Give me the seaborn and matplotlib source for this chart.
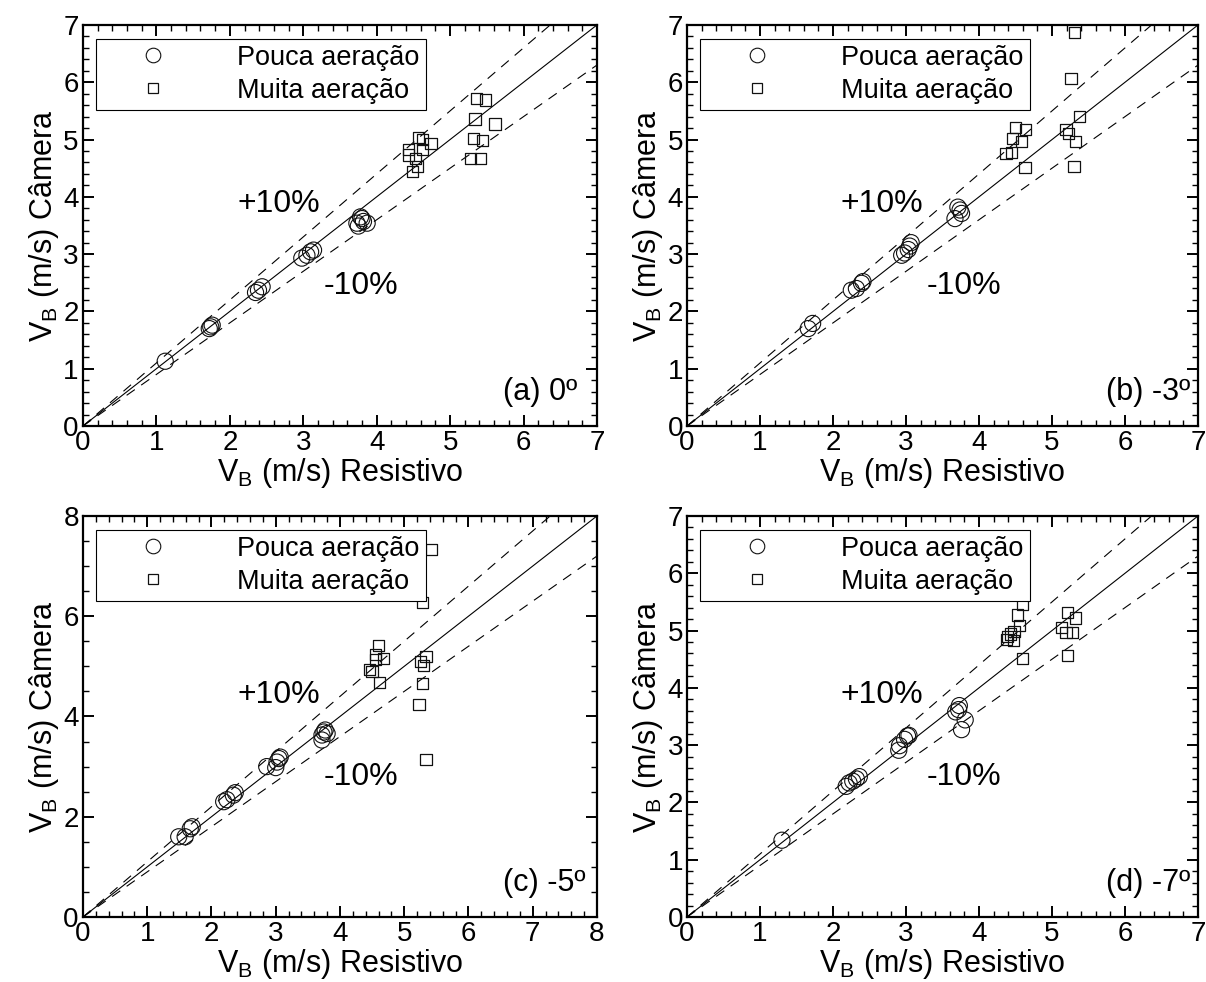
import numpy as np
import pandas as pd
import matplotlib
matplotlib.use("Agg")
import matplotlib.pyplot as plt
from matplotlib.lines import Line2D
from matplotlib.ticker import MultipleLocator
import seaborn as sns

# ---------------- data ----------------
# Panel (a) 0º
a_pouca_x = [1.12, 1.72, 1.76, 1.74, 2.35, 2.44, 2.39, 2.98, 3.05, 3.14, 3.10, 3.78, 3.73, 3.82, 3.75, 3.80, 3.87]
a_pouca_y = [1.13, 1.70, 1.76, 1.73, 2.33, 2.43, 2.37, 2.93, 2.98, 3.07, 3.04, 3.65, 3.54, 3.57, 3.49, 3.62, 3.54]
a_muita_x = [5.36, 5.48, 5.34, 5.61, 5.32, 5.44, 5.28, 5.41, 4.57, 4.62, 4.74, 4.43, 4.62, 4.43, 4.53, 4.56, 4.49]
a_muita_y = [5.71, 5.69, 5.36, 5.27, 5.02, 4.98, 4.67, 4.67, 5.04, 5.00, 4.93, 4.82, 4.83, 4.73, 4.67, 4.53, 4.44]

# Panel (b) -3º
b_pouca_x = [1.66, 1.72, 2.25, 2.32, 2.39, 2.41, 2.94, 2.98, 3.03, 3.05, 3.07, 3.67, 3.74, 3.76, 3.71]
b_pouca_y = [1.70, 1.79, 2.37, 2.40, 2.49, 2.52, 2.98, 3.02, 3.08, 3.14, 3.20, 3.62, 3.77, 3.71, 3.82]
b_muita_x = [5.31, 5.26, 5.38, 5.19, 5.22, 5.32, 5.30, 4.50, 4.64, 4.46, 4.58, 4.44, 4.37, 4.63]
b_muita_y = [6.87, 6.06, 5.40, 5.17, 5.11, 4.96, 4.53, 5.21, 5.17, 5.02, 4.97, 4.78, 4.75, 4.51]

# Panel (c) -5º
c_pouca_x = [1.49, 1.59, 1.67, 1.70, 2.19, 2.24, 2.34, 2.37, 2.86, 3.00, 3.02, 3.05, 3.07, 3.72, 3.75, 3.77, 3.72, 3.80]
c_pouca_y = [1.60, 1.60, 1.76, 1.80, 2.30, 2.34, 2.43, 2.48, 3.00, 2.98, 3.09, 3.16, 3.19, 3.63, 3.69, 3.73, 3.53, 3.66]
c_muita_x = [5.42, 5.28, 4.60, 4.55, 4.68, 4.55, 5.34, 5.25, 5.30, 4.46, 4.50, 4.62, 5.29, 5.23, 5.34]
c_muita_y = [7.33, 6.27, 5.42, 5.24, 5.16, 5.14, 5.20, 5.09, 5.01, 4.93, 4.89, 4.68, 4.66, 4.24, 3.14]

# Panel (d) -7º
d_pouca_x = [1.30, 2.18, 2.22, 2.27, 2.32, 2.36, 2.90, 2.91, 2.98, 3.02, 3.04, 3.68, 3.73, 3.72, 3.81, 3.76]
d_pouca_y = [1.34, 2.28, 2.34, 2.37, 2.41, 2.45, 2.91, 2.99, 3.10, 3.16, 3.17, 3.58, 3.69, 3.62, 3.44, 3.27]
d_muita_x = [4.59, 4.53, 4.55, 4.48, 4.43, 4.39, 4.47, 4.38, 4.59, 5.21, 5.32, 5.13, 5.19, 5.28, 5.21]
d_muita_y = [5.45, 5.27, 5.09, 4.99, 4.94, 4.90, 4.82, 4.85, 4.51, 5.31, 5.22, 5.05, 4.96, 4.97, 4.57]

panel_titles = ["(a) 0º", "(b) -3º", "(c) -5º", "(d) -7º"]
axis_max = [7, 7, 8, 7]
y_major = [1, 1, 2, 1]
y_minor = [0.2, 0.2, 0.5, 0.2]
series_labels = ["Pouca aeração", "Muita aeração"]
xlabel = "V$_B$ (m/s) Resistivo"
ylabel = "V$_B$ (m/s) Câmera"

# ---------------- style ----------------
sns.set_theme(style="ticks")
plt.rcParams["font.family"] = ["Liberation Sans", "DejaVu Sans"]
plt.rcParams["mathtext.default"] = "regular"
plt.rcParams["axes.linewidth"] = 1.6
plt.rcParams["text.color"] = "black"
plt.rcParams["axes.labelcolor"] = "black"
plt.rcParams["xtick.color"] = "black"
plt.rcParams["ytick.color"] = "black"
plt.rcParams["axes.edgecolor"] = "black"

fig = plt.figure(figsize=(12.06, 9.82), dpi=100)
positions = [
    [0.0688, 0.5662, 0.4262, 0.4084],
    [0.5697, 0.5662, 0.4237, 0.4084],
    [0.0688, 0.0662, 0.4262, 0.4084],
    [0.5697, 0.0662, 0.4237, 0.4084],
]
title_x = [0.961, 0.984, 0.977, 0.984]

panels = [
    (a_pouca_x, a_pouca_y, a_muita_x, a_muita_y),
    (b_pouca_x, b_pouca_y, b_muita_x, b_muita_y),
    (c_pouca_x, c_pouca_y, c_muita_x, c_muita_y),
    (d_pouca_x, d_pouca_y, d_muita_x, d_muita_y),
]

FS = 20
edge = "#111111"

for i, (px, py, mx, my) in enumerate(panels):
    ax = fig.add_axes(positions[i])
    m = axis_max[i]
    # reference lines: 1:1 and +/-10%
    ref = np.array([0, m])
    ax.plot(ref, ref, color="black", lw=0.8, zorder=1)
    ax.plot(ref, 1.1 * ref, color="black", lw=0.8, ls=(0, (9, 7)), zorder=1)
    ax.plot(ref, 0.9 * ref, color="black", lw=0.8, ls=(0, (9, 7)), zorder=1)

    df_p = pd.DataFrame({"x": px, "y": py})
    df_m = pd.DataFrame({"x": mx, "y": my})
    sns.scatterplot(data=df_p, x="x", y="y", ax=ax, marker="o", s=135,
                    facecolors="none", edgecolor=edge, linewidth=0.8, zorder=3)
    sns.scatterplot(data=df_m, x="x", y="y", ax=ax, marker="s", s=65,
                    facecolors="none", edgecolor=edge, linewidth=0.9, zorder=3)

    ax.set_xlim(0, m)
    ax.set_ylim(0, m)
    ax.xaxis.set_major_locator(MultipleLocator(1))
    ax.xaxis.set_minor_locator(MultipleLocator(0.2))
    ax.yaxis.set_major_locator(MultipleLocator(y_major[i]))
    ax.yaxis.set_minor_locator(MultipleLocator(y_minor[i]))
    ax.tick_params(which="both", direction="in", top=True, right=True,
                   color="black", labelcolor="black", labelsize=FS, pad=3)
    ax.tick_params(which="major", length=8, width=1.4)
    ax.tick_params(which="minor", length=4.5, width=1.0)

    ax.set_xlabel(xlabel, fontsize=22, labelpad=0)
    ax.set_ylabel(ylabel, fontsize=22, labelpad=2)

    ax.text(0.30, 0.553, "+10%", transform=ax.transAxes, fontsize=23,
            ha="left", va="center")
    ax.text(0.468, 0.348, "-10%", transform=ax.transAxes, fontsize=23,
            ha="left", va="center")
    ax.text(title_x[i], 0.085, panel_titles[i], transform=ax.transAxes,
            fontsize=22, ha="right", va="center")

    handles = [
        Line2D([], [], ls="none", marker="o", markersize=10.5,
               markerfacecolor="none", markeredgecolor=edge, markeredgewidth=0.8),
        Line2D([], [], ls="none", marker="s", markersize=7.5,
               markerfacecolor="none", markeredgecolor=edge, markeredgewidth=0.9),
    ]
    leg = ax.legend(handles, series_labels, loc="upper left",
                    bbox_to_anchor=(0.025, 0.965), borderaxespad=0,
                    fontsize=19.5, frameon=True, fancybox=False,
                    handlelength=3.8, handletextpad=1.2,
                    labelspacing=0.25, borderpad=0.22)
    leg.get_frame().set_edgecolor("black")
    leg.get_frame().set_linewidth(0.8)
    leg.get_frame().set_alpha(1)
    for t in leg.get_texts():
        t.set_color("black")

fig.savefig("out.png", dpi=100)
